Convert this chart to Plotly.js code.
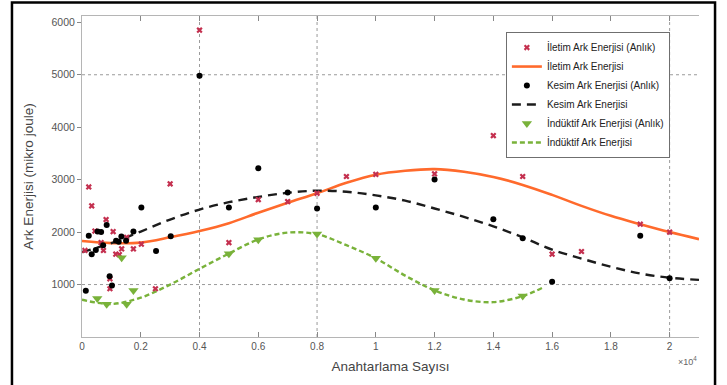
<!DOCTYPE html>
<html>
<head>
<meta charset="utf-8">
<script src="https://cdn.plot.ly/plotly-3.0.1.min.js"></script>
<style>
  html, body { margin: 0; padding: 0; background: #ffffff; }
  #chart { width: 727px; height: 385px; }
</style>
</head>
<body>
<div id="chart"></div>
<script>
// Switching count (x) and arc energy in microjoule (y)

// İletim (conduction) arc energy – individual measurements
const iletimX = [100, 230, 330, 440, 650, 730, 820, 950, 950, 1060, 1150, 1270, 1350, 1520, 1750, 2020, 2500, 3000, 4000, 5000, 6000, 7000, 8000, 9000, 10000, 12000, 14000, 15000, 16000, 17000, 19000, 20000];
const iletimY = [1650, 2860, 2500, 2020, 1800, 1650, 2240, 1110, 920, 2010, 1580, 1570, 1680, 1900, 1680, 1770, 920, 2920, 5850, 1800, 2620, 2580, 2740, 3060, 3100, 3110, 3840, 3060, 1580, 1630, 2150, 2000];

// Kesim (breaking) arc energy – individual measurements
const kesimX = [130, 230, 330, 470, 530, 650, 720, 840, 940, 1020, 1160, 1250, 1340, 1500, 1750, 2020, 2520, 3020, 4000, 5000, 6000, 7000, 8000, 10000, 12000, 14000, 15000, 16000, 19000, 20000];
const kesimY = [880, 1930, 1580, 1660, 2010, 2000, 1750, 2135, 1160, 980, 1835, 1815, 1915, 1835, 2010, 2470, 1640, 1920, 4980, 2470, 3215, 2755, 2450, 2470, 3005, 2245, 1885, 1055, 1930, 1120];

// İndüktif (inductive) arc energy – individual measurements
const induktifX = [520, 840, 1350, 1520, 1750, 5000, 6000, 8000, 10000, 12000, 15000];
const induktifY = [735, 625, 1510, 625, 885, 1585, 1855, 1962, 1501, 886, 780];

// Fitted trend curves
const trendX = [0, 1000, 2000, 3000, 4000, 5000, 6000, 7000, 8000, 9000, 10000, 11000, 12000, 13000, 14000, 15000, 16000, 17000, 18000, 19000, 20000, 21000];
const iletimFit = [1830, 1790, 1800, 1900, 2020, 2170, 2370, 2560, 2740, 2940, 3095, 3170, 3200, 3150, 3050, 2900, 2710, 2500, 2310, 2150, 2000, 1865];
const kesimFit = [1620, 1790, 2010, 2240, 2430, 2570, 2670, 2750, 2790, 2770, 2700, 2600, 2450, 2290, 2110, 1900, 1665, 1495, 1340, 1210, 1130, 1090];
const induktifFitX = [0, 1000, 2000, 3000, 4000, 5000, 6000, 7000, 8000, 9000, 10000, 11000, 12000, 13000, 14000, 15000, 15750];
const induktifFit = [710, 630, 750, 1000, 1300, 1590, 1860, 1990, 1960, 1750, 1500, 1170, 890, 715, 665, 780, 960];

// Axis ticks
const xTickVals = [0, 2000, 4000, 6000, 8000, 10000, 12000, 14000, 16000, 18000, 20000];
const xTickText = ['0', '0.2', '0.4', '0.6', '0.8', '1', '1.2', '1.4', '1.6', '1.8', '2'];
const yTickVals = [1000, 2000, 3000, 4000, 5000, 6000];
const yTickText = ['1000', '2000', '3000', '4000', '5000', '6000'];

// Dotted reference grid lines
const xGridAt = [4000, 8000, 20000];
const yGridAt = [1000, 5000];

const RED = '#c4304f';
const ORANGE = '#ff6a2c';
const DARK = '#1c1c1c';
const GREEN = '#79b23a';
const FONT = 'Liberation Sans, Arial, sans-serif';

const traces = [
  { x: trendX, y: iletimFit, type: 'scatter', mode: 'lines', name: 'İletim Ark Enerjisi',
    line: { color: ORANGE, width: 2.6, shape: 'spline' }, legendrank: 2 },
  { x: trendX, y: kesimFit, type: 'scatter', mode: 'lines', name: 'Kesim Ark Enerjisi',
    line: { color: DARK, width: 2.4, dash: '9px,6px', shape: 'spline' }, legendrank: 4 },
  { x: induktifFitX, y: induktifFit, type: 'scatter', mode: 'lines', name: 'İndüktif Ark Enerjisi',
    line: { color: GREEN, width: 2.4, dash: '5px,3px', shape: 'spline' }, legendrank: 6 },
  { x: iletimX, y: iletimY, type: 'scatter', mode: 'markers', name: 'İletim Ark Enerjisi (Anlık)',
    marker: { symbol: 'x', size: 5.5, color: RED }, legendrank: 1 },
  { x: kesimX, y: kesimY, type: 'scatter', mode: 'markers', name: 'Kesim Ark Enerjisi (Anlık)',
    marker: { symbol: 'circle', size: 6, color: '#000000' }, legendrank: 3 },
  { x: induktifX, y: induktifY, type: 'scatter', mode: 'markers', name: 'İndüktif Ark Enerjisi (Anlık)',
    marker: { symbol: 'triangle-down', size: 9, color: GREEN }, legendrank: 5 }
];

const shapes = [];
xGridAt.forEach(v => shapes.push({
  type: 'line', xref: 'x', yref: 'paper', x0: v, x1: v, y0: 0, y1: 1,
  line: { color: '#9a9a9a', width: 1, dash: 'dot' }, layer: 'below'
}));
yGridAt.forEach(v => shapes.push({
  type: 'line', xref: 'paper', yref: 'y', x0: 0, x1: 1, y0: v, y1: v,
  line: { color: '#9a9a9a', width: 1, dash: 'dot' }, layer: 'below'
}));
// Figure frame
shapes.push({
  type: 'rect', xref: 'paper', yref: 'paper', x0: -0.1135, x1: 1.026, y0: -0.2, y1: 1.042,
  line: { color: '#000000', width: 2.5 }, fillcolor: 'rgba(0,0,0,0)'
});

const layout = {
  width: 727, height: 385,
  margin: { l: 82, r: 28, t: 16, b: 48 },
  paper_bgcolor: '#ffffff', plot_bgcolor: '#ffffff',
  font: { family: FONT, color: '#555555', size: 10 },
  showlegend: true,
  legend: {
    x: 0.687, y: 0.95, xanchor: 'left', yanchor: 'top',
    bgcolor: '#ffffff', bordercolor: '#6f6f6f', borderwidth: 1,
    font: { family: FONT, size: 10, color: '#222222' },
    tracegroupgap: 0, traceorder: 'normal'
  },
  xaxis: {
    range: [0, 21000], tickmode: 'array', tickvals: xTickVals, ticktext: xTickText,
    ticks: 'inside', ticklen: 5, tickcolor: '#888888', mirror: 'ticks',
    showline: true, linecolor: '#b5b5b5', linewidth: 1,
    showgrid: false, zeroline: false,
    tickfont: { family: FONT, size: 10, color: '#555555' },
    title: { text: 'Anahtarlama Sayısı', font: { family: FONT, size: 13.5, color: '#444444' }, standoff: 10 }
  },
  yaxis: {
    range: [0, 6120], tickmode: 'array', tickvals: yTickVals, ticktext: yTickText,
    ticks: 'outside', ticklen: 4, tickcolor: '#888888',
    showline: true, linecolor: '#b5b5b5', linewidth: 1, mirror: false,
    showgrid: false, zeroline: false,
    tickfont: { family: FONT, size: 10.5, color: '#555555' },
    title: { text: 'Ark Enerjisi (mikro joule)', font: { family: FONT, size: 13.5, color: '#444444' }, standoff: 14 }
  },
  yaxis2: {
    overlaying: 'y', side: 'right', anchor: 'x', range: [0, 6120],
    tickmode: 'array', tickvals: yTickVals, ticks: 'inside', ticklen: 5, tickcolor: '#555555',
    showticklabels: false, showline: true, linecolor: '#555555', linewidth: 1.2,
    showgrid: false, zeroline: false
  },
  shapes: shapes,
  annotations: [{
    xref: 'paper', yref: 'paper', x: 1.0, y: -0.075, xanchor: 'right', yanchor: 'middle',
    text: '×10<sup>4</sup>', showarrow: false, font: { family: FONT, size: 9, color: '#666666' }
  }]
};

Plotly.newPlot('chart', traces, layout, { staticPlot: true, displayModeBar: false });
</script>
</body>
</html>
